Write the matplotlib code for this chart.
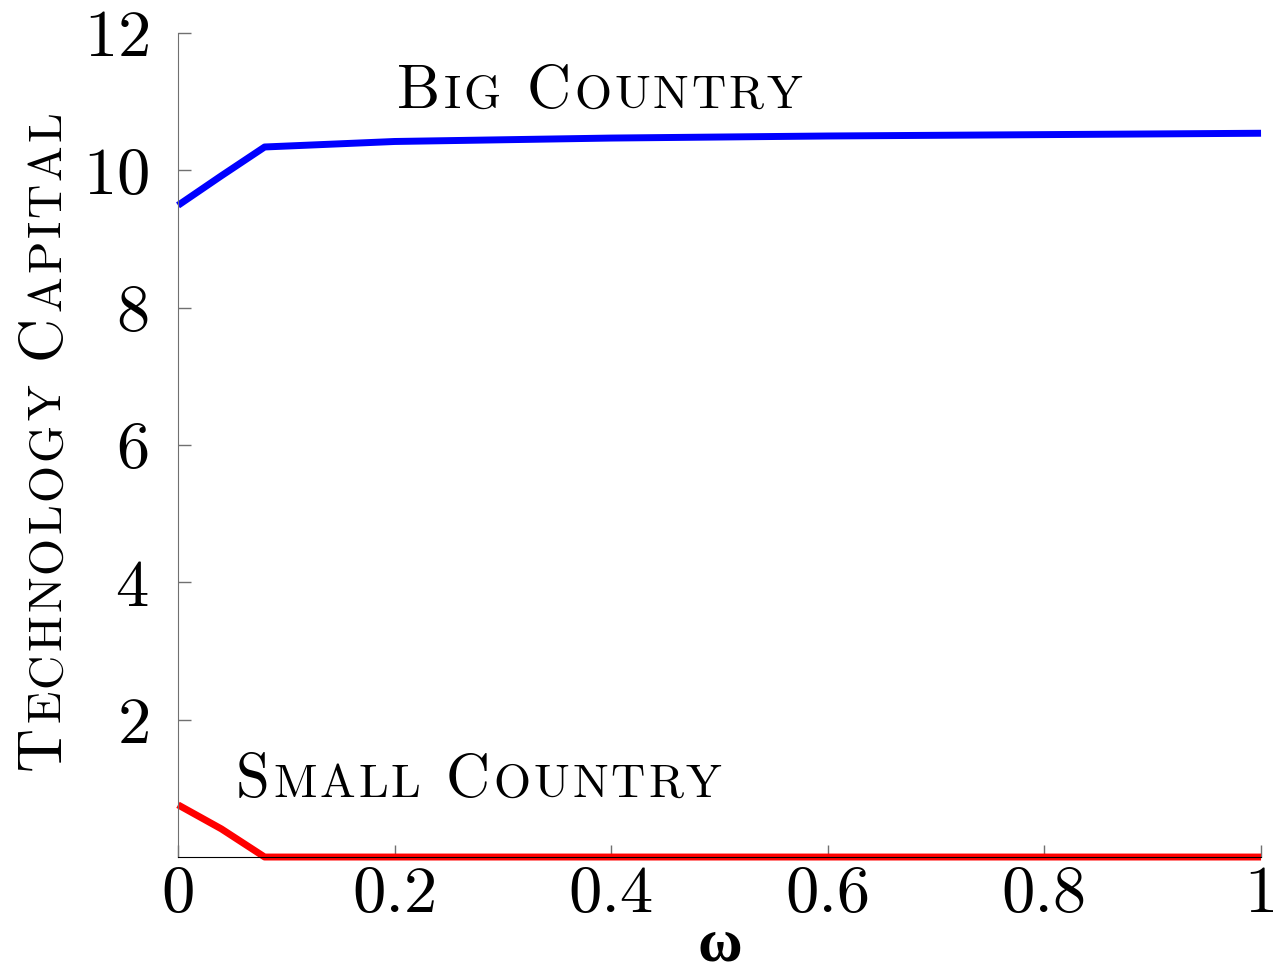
import matplotlib
matplotlib.use("Agg")
import matplotlib.pyplot as plt
from matplotlib import font_manager
from matplotlib.ft2font import FT2Font
from matplotlib.transforms import offset_copy

omega = [0.0, 0.04, 0.08, 0.2, 0.4, 0.6, 0.8, 1.0]
big_country = [9.49, 9.92, 10.34, 10.42, 10.47, 10.50, 10.52, 10.54]
small_country = [0.76, 0.41, 0.0, 0.0, 0.0, 0.0, 0.0, 0.0]

x_ticks = [0, 0.2, 0.4, 0.6, 0.8, 1]
x_labels = ["0", "0.2", "0.4", "0.6", "0.8", "1"]
y_ticks = [2, 4, 6, 8, 10, 12]

plt.rcParams["font.family"] = ["cmr10"]
plt.rcParams["mathtext.fontset"] = "cm"
plt.rcParams["axes.formatter.use_mathtext"] = True

font_path = font_manager.findfont(font_manager.FontProperties(family="cmr10"))
ft = FT2Font(font_path)


def advance(s, size):
    # width of a string in points, from the glyph advances
    ft.set_size(size, 72)
    w = 0.0
    for c in s:
        g = ft.load_char(ord(c))
        w += g.linearHoriAdvance / 65536.0
    return w


def small_caps(fig, x, y, text, size, transform, rotation=0, ratio=0.78, track=0.06):
    off = 0.0
    small = size * ratio
    for i, word in enumerate(text.split(" ")):
        if i:
            off += advance(" ", size) * 1.1
        for c in word:
            fs = size if c.isupper() else small
            ch = c.upper()
            if rotation:
                tr = offset_copy(transform, fig, x=0, y=off, units="points")
            else:
                tr = offset_copy(transform, fig, x=off, y=0, units="points")
            fig.text(x, y, ch, fontsize=fs, transform=tr, rotation=rotation,
                     rotation_mode="anchor", ha="left", va="baseline")
            off += advance(ch, fs) + track * fs


fig = plt.figure(figsize=(12.77, 9.76), dpi=100)
ax = fig.add_axes([0.1394, 0.1219, 0.8481, 0.8443])

ax.plot(omega, big_country, color="blue", lw=5, clip_on=False, solid_capstyle="butt")
ax.plot(omega, small_country, color="red", lw=5, clip_on=False, solid_capstyle="butt")

ax.set_xlim(0, 1)
ax.set_ylim(0, 12)
ax.set_xticks(x_ticks)
ax.set_xticklabels(x_labels)
ax.set_yticks(y_ticks)
ax.tick_params(direction="in", length=9, width=1, color="#707070", labelsize=48)
ax.tick_params(axis="x", pad=6)
ax.tick_params(axis="y", pad=21)
for s in ["top", "right"]:
    ax.spines[s].set_visible(False)
ax.spines["left"].set_color("#707070")
ax.spines["bottom"].set_color("black")

ax.set_xlabel("ω", fontsize=44, family=["Liberation Serif", "DejaVu Serif"],
              fontweight="bold", labelpad=-5)

small_caps(fig, 0.202, 10.91, "Big Country", 44, ax.transData)
small_caps(fig, 0.053, 0.874, "Small Country", 44, ax.transData)
small_caps(fig, 0.047, 0.211, "Technology Capital", 44, fig.transFigure, rotation=90)

fig.savefig("out.png", dpi=100)
